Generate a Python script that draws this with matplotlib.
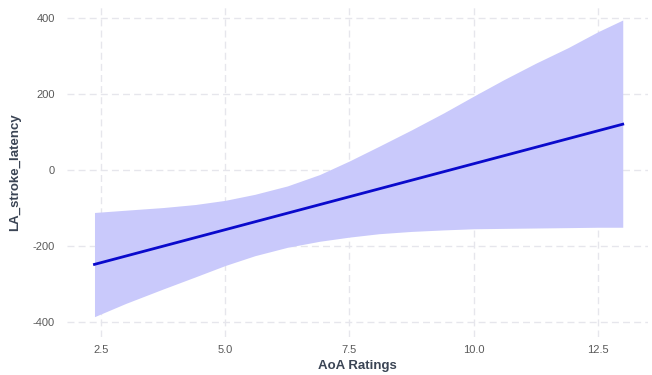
import numpy as np
import matplotlib.pyplot as plt

plt.rcParams['font.family'] = ['Liberation Sans', 'DejaVu Sans']

# fitted regression line (end points) and its confidence band
line_x = [2.37, 13.0]
line_y = [-249, 121]

band_x = [2.37, 3.0, 3.75, 4.4, 5.0, 5.6, 6.25, 6.9, 7.5, 8.1, 8.75, 9.4, 10.0, 10.6, 11.25, 11.9, 12.5, 13.0]
band_upper = [-112, -106, -99, -91, -80, -64, -42, -12, 24, 63, 106, 151, 195, 238, 282, 323, 365, 396]
band_lower = [-387, -352, -314, -282, -252, -226, -204, -188, -177, -168, -162, -158, -155, -154, -153, -152, -151, -151]

x_ticks = [2.5, 5.0, 7.5, 10.0, 12.5]
x_ticklabels = ["2.5", "5.0", "7.5", "10.0", "12.5"]
y_ticks = [-400, -200, 0, 200, 400]
y_ticklabels = ["-400", "-200", "0", "200", "400"]

fig = plt.figure(figsize=(6.52, 3.75), dpi=100)
ax = fig.add_axes([0.103, 0.101, 0.891, 0.880])

ax.fill_between(band_x, band_lower, band_upper, color="#c9c9fb", lw=0, zorder=2)
ax.plot(line_x, line_y, color="#0a0acc", lw=2, zorder=3)

ax.set_xlim(1.82, 13.51)
ax.set_ylim(-441, 430)
ax.set_xticks(x_ticks)
ax.set_xticklabels(x_ticklabels)
ax.set_yticks(y_ticks)
ax.set_yticklabels(y_ticklabels)

ax.grid(True, color="#e6e6ec", lw=1, ls=(0, (5, 3)), zorder=0)
for s in ax.spines.values():
    s.set_visible(False)
ax.tick_params(length=0, labelsize=8, labelcolor="#5a5a5a")
ax.tick_params(axis="x", pad=6)
ax.tick_params(axis="y", pad=9)

ax.set_xlabel("AoA Ratings", fontsize=9.5, fontweight="bold", color="#3a4454", labelpad=3)
ax.set_ylabel("LA_stroke_latency", fontsize=9.5, fontweight="bold", color="#3a4454", labelpad=8)

fig.savefig("out.png", dpi=100)
